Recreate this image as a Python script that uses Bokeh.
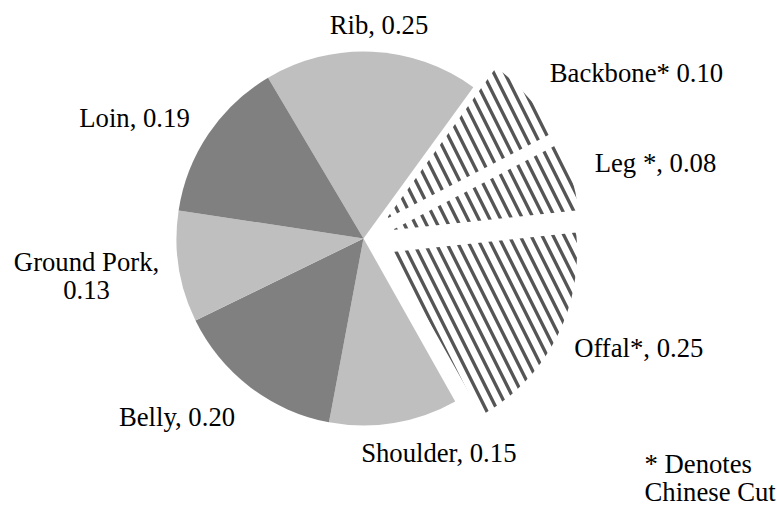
import math
from bokeh.plotting import figure
from bokeh.models import Range1d, ColumnDataSource
from bokeh.core.properties import value
from bokeh.embed import file_html
from bokeh.resources import INLINE

# ---------------- data ----------------
categories = ["Rib", "Backbone", "Leg", "Offal", "Shoulder", "Belly", "Ground Pork", "Loin"]
values = [0.25, 0.10, 0.08, 0.25, 0.15, 0.20, 0.13, 0.19]
labels = ["Rib, 0.25", "Backbone* 0.10", "Leg *, 0.08", "Offal*, 0.25",
          "Shoulder, 0.15", "Belly, 0.20", "Ground Pork,\n0.13", "Loin, 0.19"]
chinese_cut = [False, True, True, True, False, False, False, False]
footnote = ["* Denotes", "Chinese Cut"]

# ---------------- layout / style ----------------
W, H = 777, 508
CX, CY = 363, 270          # pie centre (plot units = pixels)
R = 187                    # radius
START_DEG = 120.7          # first slice starts here, slices run clockwise
EXPLODE = 30               # offset of the Chinese-cut slices
FILLS = ["#bfbfbf", "#ffffff", "#ffffff", "#ffffff", "#bfbfbf", "#808080", "#bfbfbf", "#808080"]
LABEL_POS = [(15.5, 213.5), (273, 165.1), (292, 75.1), (275.3, -109.9),
             (75.3, -214.9), (-186.5, -178.2), (-277, -37.4), (-229, 120.1)]
FOOT_POS = [(644, 44.3), (644, 16.3)]
FONT = value("Liberation Serif")
FSIZE = "26.7px"

total = sum(values)
deg_per = 360.0 / total

xs, ys, starts, ends = [], [], [], []
a = START_DEG
for v, cut in zip(values, chinese_cut):
    sweep = v * deg_per
    end = a - sweep
    mid = math.radians((a + end) / 2)
    off = EXPLODE if cut else 0
    xs.append(CX + off * math.cos(mid))
    ys.append(CY + off * math.sin(mid))
    starts.append(math.radians(end))
    ends.append(math.radians(a))
    a = end

def pick(seq, flag):
    return [s for s, c in zip(seq, chinese_cut) if c == flag]

plain = ColumnDataSource(dict(x=pick(xs, False), y=pick(ys, False), s=pick(starts, False),
                              e=pick(ends, False), f=pick(FILLS, False)))
hatched = ColumnDataSource(dict(x=pick(xs, True), y=pick(ys, True), s=pick(starts, True),
                                e=pick(ends, True)))

p = figure(width=W, height=H, output_backend="svg", toolbar_location=None,
           x_range=Range1d(0, W), y_range=Range1d(0, H),
           x_axis_type=None, y_axis_type=None, min_border=0)
p.outline_line_color = None
p.grid.visible = False
p.background_fill_color = "white"
p.border_fill_color = "white"

p.wedge(x="x", y="y", radius=R, start_angle="s", end_angle="e", direction="anticlock",
        fill_color="f", line_color=None, source=plain)
p.wedge(x="x", y="y", radius=R, start_angle="s", end_angle="e", direction="anticlock",
        fill_color="white", line_color=None, hatch_pattern="left_diagonal_line",
        hatch_color="#555555", hatch_scale=22, hatch_weight=3.3, source=hatched)

lab = ColumnDataSource(dict(
    x=[CX + dx for dx, dy in LABEL_POS],
    y=[CY + dy for dx, dy in LABEL_POS],
    t=labels,
))
p.text(x="x", y="y", text="t", source=lab, text_font=FONT, text_font_size=FSIZE,
       text_align="center", text_baseline="middle", text_color="black",
       text_line_height=0.95)

foot = ColumnDataSource(dict(x=[q[0] for q in FOOT_POS], y=[q[1] for q in FOOT_POS], t=footnote))
p.text(x="x", y="y", text="t", source=foot, text_font=FONT, text_font_size=FSIZE,
       text_align="left", text_baseline="middle", text_color="black")

open("out.html", "w").write(file_html(p, INLINE))
